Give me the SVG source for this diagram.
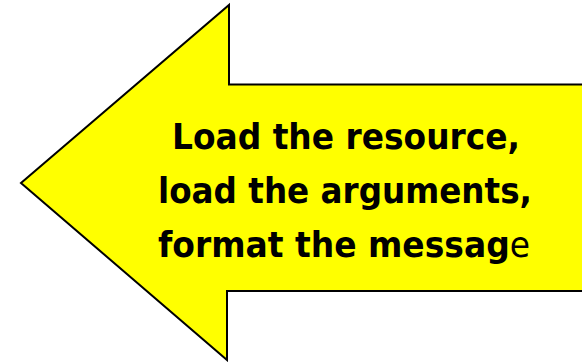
<svg xmlns="http://www.w3.org/2000/svg" width="582" height="362" viewBox="0 0 582 362">
  <style>
    .arrow { fill: #FFFF00; stroke: #000000; stroke-width: 2; stroke-linejoin: miter; }
    .label { font-family: "DejaVu Sans", "Liberation Sans", sans-serif; font-weight: bold; font-size: 36px; fill: #000000; text-anchor: middle; }
    .thin { font-weight: normal; }
  </style>
  <rect width="582" height="362" fill="#FFFFFF"/>
  <g id="arrow-node">
    <polygon class="arrow" points="600,84.5 229,84.5 229,5 21,183 227,360 227,291 600,291"/>
    <text class="label" x="346" y="149" textLength="348" lengthAdjust="spacingAndGlyphs">Load the resource,</text>
    <text class="label" x="345" y="203" textLength="374" lengthAdjust="spacingAndGlyphs">load the arguments,</text>
    <text class="label" x="344" y="257" textLength="372" lengthAdjust="spacingAndGlyphs">format the messag<tspan class="thin">e</tspan></text>
  </g>
  <g id="connectors"/>
</svg>
